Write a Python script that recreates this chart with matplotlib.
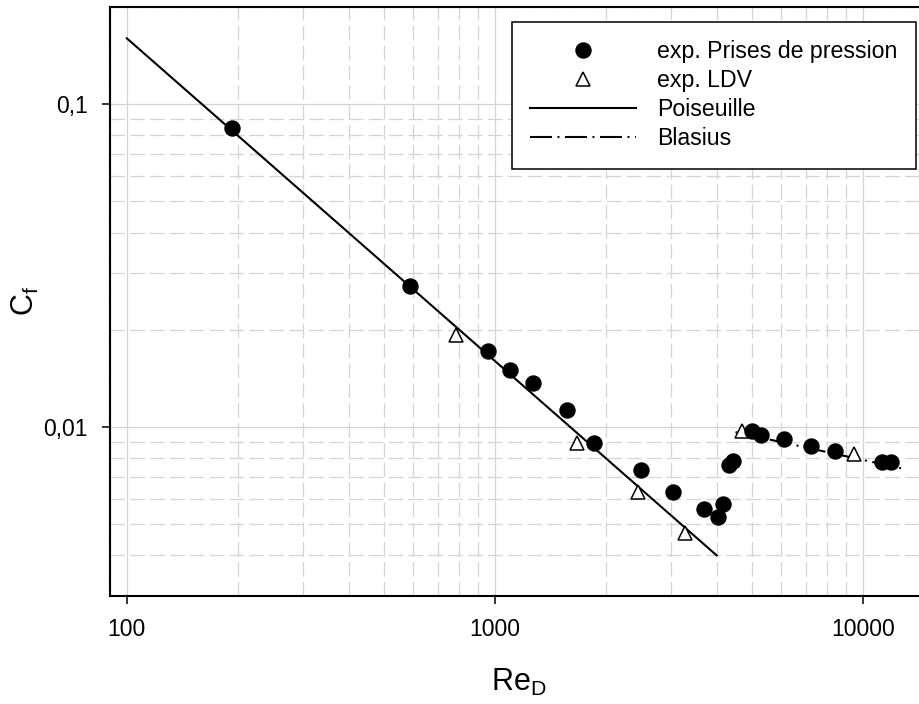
import matplotlib
matplotlib.use("Agg")
import matplotlib.pyplot as plt
from matplotlib.ticker import FixedLocator, NullFormatter

# valeurs
re_pression = [193.5, 587.5, 959, 1098, 1271, 1566, 1857, 2496, 3049, 3701,
               4039, 4169, 4319, 4442, 4977, 5291, 6080, 7224, 8378, 11254, 11891]
cf_pression = [0.0843, 0.02735, 0.0172, 0.01506, 0.01369, 0.01132, 0.00892,
               0.00734, 0.00629, 0.00556, 0.00526, 0.00576, 0.00761, 0.00783,
               0.00972, 0.00947, 0.00915, 0.00873, 0.00842, 0.00779, 0.00779]

re_ldv = [782, 1667, 2444, 3281, 4676, 9465]
cf_ldv = [0.01924, 0.00892, 0.00629, 0.00469, 0.00970, 0.00822]

re_poiseuille = [100, 4000]
cf_poiseuille = [0.16, 0.004]

re_blasius = [4500, 12800]
cf_blasius = [0.00964, 0.00743]

x_ticks = [100, 1000, 10000]
x_labels = ['100', '1000', '10000']
y_ticks = [0.01, 0.1]
y_labels = ['0,01', '0,1']

plt.rcParams['font.family'] = ['Liberation Sans', 'DejaVu Sans']
plt.rcParams['mathtext.fontset'] = 'custom'
plt.rcParams['mathtext.rm'] = 'Liberation Sans'
plt.rcParams['lines.scale_dashes'] = False

fig = plt.figure(figsize=(9.19, 7.04), dpi=100)
ax = fig.add_axes([0.1197, 0.1538, 0.8901, 0.8362])

ax.set_xscale('log')
ax.set_yscale('log')
ax.set_xlim(90, 15000)
ax.set_ylim(0.003, 0.2)

# grille
ax.grid(True, which='major', color='#d4d4d4', lw=0.9, ls='-')
ax.grid(True, which='minor', color='#d4d4d4', lw=0.9, ls=(0, (10.5, 3.8)))
ax.set_axisbelow(True)

ax.plot(re_poiseuille, cf_poiseuille, color='black', lw=1.5, label='Poiseuille', zorder=3)
ax.plot(re_blasius, cf_blasius, color='black', lw=1.5, ls=(0, (15.8, 4, 1.4, 4)),
        label='Blasius', zorder=3)
ax.plot(re_ldv, cf_ldv, ls='none', marker='^', ms=10.5, mfc='white', mec='black',
        mew=1.1, label='exp. LDV', zorder=4)
ax.plot(re_pression, cf_pression, ls='none', marker='o', ms=10.8, color='black',
        label='exp. Prises de pression', zorder=5)

ax.xaxis.set_major_locator(FixedLocator(x_ticks))
ax.set_xticklabels(x_labels)
ax.yaxis.set_major_locator(FixedLocator(y_ticks))
ax.set_yticklabels(y_labels)
ax.xaxis.set_minor_formatter(NullFormatter())
ax.yaxis.set_minor_formatter(NullFormatter())

ax.tick_params(which='major', direction='out', length=5.8, width=1.1,
               labelsize=16.5, pad=10, top=False, right=False)
ax.tick_params(which='minor', length=0)

for s in ax.spines.values():
    s.set_linewidth(1.5)

ax.set_xlabel(r'$\mathrm{Re}_\mathrm{D}$', fontsize=22, labelpad=19)
ax.set_ylabel(r'$\mathrm{C}_\mathrm{f}$', fontsize=22, labelpad=2)

# ordre de la légende
h, l = ax.get_legend_handles_labels()
order = [3, 2, 0, 1]
leg = ax.legend([h[i] for i in order], [l[i] for i in order],
                loc='upper left', bbox_to_anchor=(511.7 / 919, 1 - 21.7 / 704),
                bbox_transform=fig.transFigure, fontsize=16.7, numpoints=1,
                handlelength=4.57, handletextpad=0.9, borderpad=0.8,
                labelspacing=0.26, fancybox=False, framealpha=1,
                edgecolor='black', borderaxespad=0)
leg.get_frame().set_linewidth(1.1)

fig.savefig('out.png', dpi=100)
